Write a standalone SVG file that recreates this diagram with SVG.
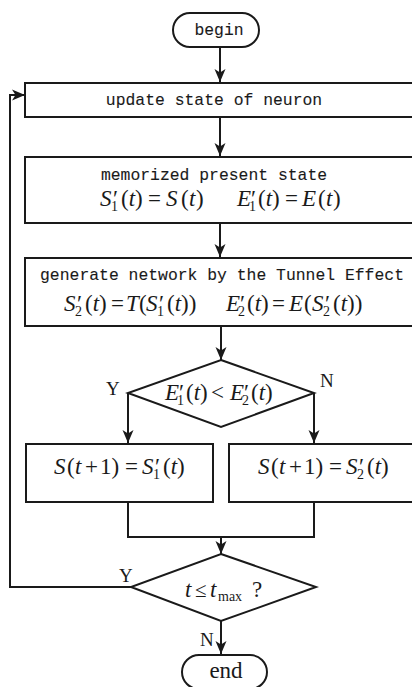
<svg xmlns="http://www.w3.org/2000/svg" width="412" height="687" viewBox="0 0 412 687">
<defs>
<marker id="ah" markerUnits="userSpaceOnUse" markerWidth="14" markerHeight="12" refX="13" refY="6" orient="auto">
<path d="M0,0.5 L13,6 L0,11.5 L3.5,6 z" fill="#1a1a1a"/>
</marker>
</defs>
<style>
.box{fill:#fff;stroke:#1a1a1a;stroke-width:2}
.ln{fill:none;stroke:#1a1a1a;stroke-width:2}
.mono{font-family:"Liberation Mono","DejaVu Sans Mono",monospace;font-size:16.4px;fill:#1a1a1a;stroke:#1a1a1a;stroke-width:0.1}
.m{font-family:"Liberation Serif","Times New Roman",serif;font-size:23px;fill:#1a1a1a}
.i{font-style:italic}
.s{font-size:14px;font-style:normal}
.lab{font-family:"Liberation Serif","Times New Roman",serif;font-size:19px;fill:#1a1a1a}
</style>
<rect width="412" height="687" fill="#fff"/>
<g id="connectors">
<line class="ln" x1="220" y1="47" x2="220" y2="82" marker-end="url(#ah)"/>
<line class="ln" x1="220" y1="117" x2="220" y2="156" marker-end="url(#ah)"/>
<line class="ln" x1="220" y1="223" x2="220" y2="257" marker-end="url(#ah)"/>
<line class="ln" x1="221" y1="326" x2="221" y2="360" marker-end="url(#ah)"/>
<polyline class="ln" points="128,393 128,443" marker-end="url(#ah)"/>
<polyline class="ln" points="314,393 314,443" marker-end="url(#ah)"/>
<polyline class="ln" points="128,502 128,537 314,537 314,502"/>
<line class="ln" x1="221" y1="537" x2="221" y2="554" marker-end="url(#ah)"/>
<polyline class="ln" points="131,587 10,587 10,95 25,95" marker-end="url(#ah)"/>
<line class="ln" x1="221" y1="621" x2="221" y2="654" marker-end="url(#ah)"/>
<text class="lab" x="106" y="395">Y</text>
<text class="lab" x="320" y="387">N</text>
<text class="lab" x="119" y="582">Y</text>
<text class="lab" x="200" y="646">N</text>
</g>
<g id="begin">
<rect class="box" x="173" y="13" width="86" height="34" rx="17"/>
<text class="mono" x="219" y="35" text-anchor="middle">begin</text>
</g>
<g id="update">
<rect class="box" x="25" y="83" width="400" height="34"/>
<text class="mono" x="214" y="105" text-anchor="middle">update state of neuron</text>
</g>
<g id="memorize">
<rect class="box" x="25" y="157" width="400" height="66"/>
<text class="mono" x="214" y="180" text-anchor="middle">memorized present state</text>
<text class="m" y="206"><tspan class="i" x="100">S</tspan><tspan x="113">′</tspan><tspan class="s" x="111" y="211">1</tspan><tspan x="121" y="206">(<tspan class="i">t</tspan>)</tspan><tspan x="148">=</tspan><tspan x="166" class="i">S</tspan><tspan x="181">(</tspan><tspan x="189" class="i">t</tspan><tspan x="196">)</tspan><tspan class="i" x="237">E</tspan><tspan x="251">′</tspan><tspan class="s" x="249" y="211">1</tspan><tspan x="258" y="206">(<tspan class="i">t</tspan>)</tspan><tspan x="285">=</tspan><tspan x="302" class="i">E</tspan><tspan x="318">(</tspan><tspan x="326" class="i">t</tspan><tspan x="333">)</tspan></text>
</g>
<g id="generate">
<rect class="box" x="25" y="258" width="400" height="68"/>
<text class="mono" x="222" y="280" text-anchor="middle">generate network by the Tunnel Effect</text>
<text class="m" y="311"><tspan class="i" x="64">S</tspan><tspan x="77">′</tspan><tspan class="s" x="75" y="316">2</tspan><tspan x="85" y="311">(<tspan class="i">t</tspan>)</tspan><tspan x="111">=</tspan><tspan class="i" x="126">T</tspan><tspan x="139">(</tspan><tspan class="i" x="146">S</tspan><tspan x="159">′</tspan><tspan class="s" x="157" y="316">1</tspan><tspan x="167" y="311">(<tspan class="i">t</tspan>))</tspan><tspan class="i" x="226">E</tspan><tspan x="240">′</tspan><tspan class="s" x="238" y="316">2</tspan><tspan x="247" y="311">(<tspan class="i">t</tspan>)</tspan><tspan x="272">=</tspan><tspan class="i" x="289">E</tspan><tspan x="304">(</tspan><tspan class="i" x="312">S</tspan><tspan x="325">′</tspan><tspan class="s" x="323" y="316">2</tspan><tspan x="333" y="311">(<tspan class="i">t</tspan>))</tspan></text>
</g>
<g id="compare">
<polygon class="box" points="221,360 314,393 221,427 128,393"/>
<text class="m" y="400"><tspan class="i" x="165">E</tspan><tspan x="179">′</tspan><tspan class="s" x="177" y="405">1</tspan><tspan x="186" y="400">(<tspan class="i">t</tspan>)</tspan><tspan x="211">&lt;</tspan><tspan class="i" x="230">E</tspan><tspan x="244">′</tspan><tspan class="s" x="242" y="405">2</tspan><tspan x="251" y="400">(<tspan class="i">t</tspan>)</tspan></text>
</g>
<g id="keep">
<rect class="box" x="26" y="444" width="187" height="58"/>
<text class="m" y="474"><tspan class="i" x="54">S</tspan><tspan x="67">(</tspan><tspan class="i" x="75">t</tspan><tspan x="85">+</tspan><tspan x="100">1)</tspan><tspan x="125">=</tspan><tspan class="i" x="142">S</tspan><tspan x="155">′</tspan><tspan class="s" x="153" y="479">1</tspan><tspan x="163" y="474">(<tspan class="i">t</tspan>)</tspan></text>
</g>
<g id="accept">
<rect class="box" x="229" y="444" width="200" height="58"/>
<text class="m" y="474"><tspan class="i" x="258">S</tspan><tspan x="271">(</tspan><tspan class="i" x="279">t</tspan><tspan x="289">+</tspan><tspan x="304">1)</tspan><tspan x="329">=</tspan><tspan class="i" x="346">S</tspan><tspan x="359">′</tspan><tspan class="s" x="357" y="479">2</tspan><tspan x="367" y="474">(<tspan class="i">t</tspan>)</tspan></text>
</g>
<g id="check">
<polygon class="box" points="221,554 316,587 221,621 131,587"/>
<text class="m" y="597"><tspan class="i" x="185">t</tspan><tspan x="195" font-size="21">≤</tspan><tspan class="i" x="210">t</tspan><tspan class="s" x="218" y="601" font-size="15">max</tspan><tspan x="252" y="597">?</tspan></text>
</g>
<g id="end">
<rect class="box" x="182" y="655" width="85" height="34" rx="17"/>
<text class="m" x="226" y="678" text-anchor="middle" font-size="19">end</text>
</g>
</svg>
